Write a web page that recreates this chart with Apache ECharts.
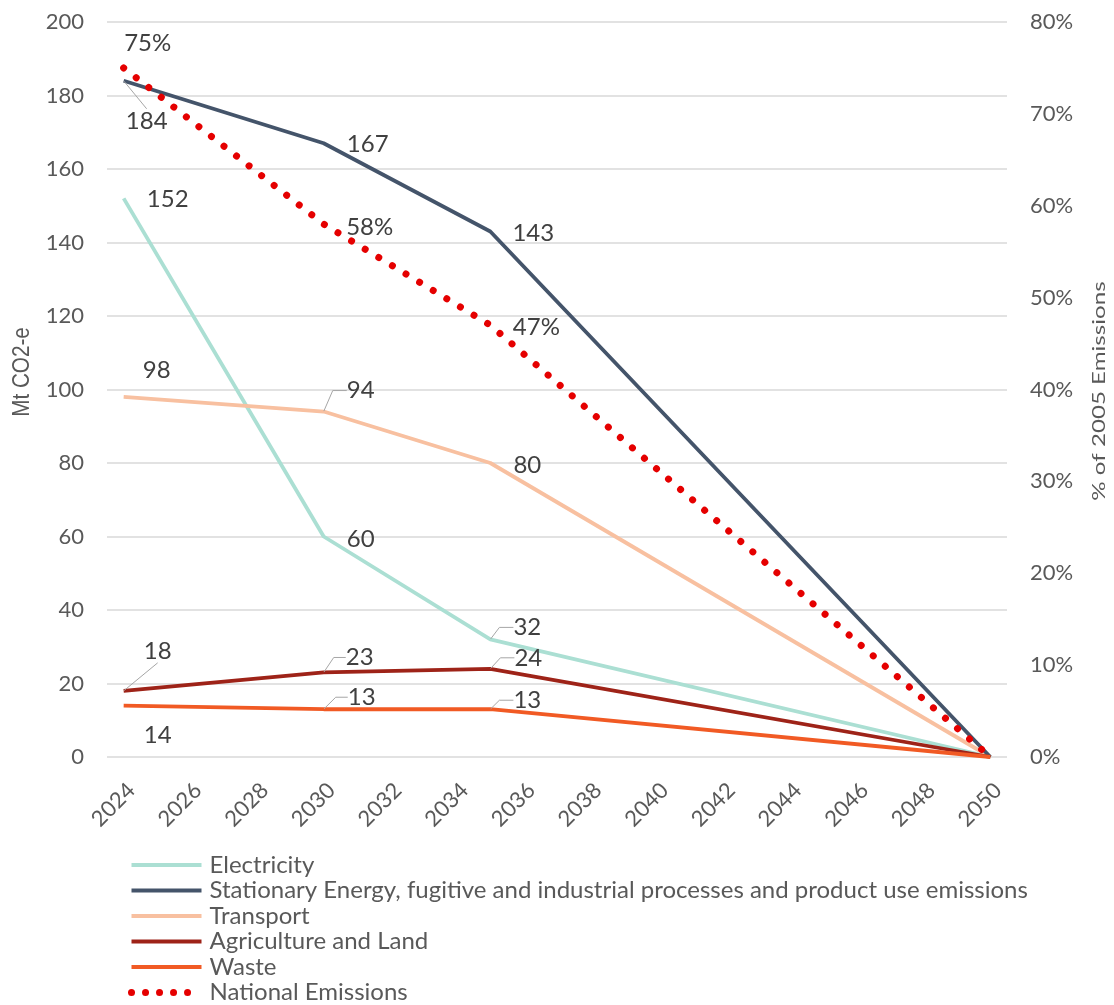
<!DOCTYPE html>
<html>
<head>
<meta charset="utf-8">
<script src="https://cdn.jsdelivr.net/npm/echarts@6/dist/echarts.min.js"></script>
<style>
  html, body { margin: 0; padding: 0; background: #ffffff; }
  #chart { width: 1114px; height: 1005px; }
</style>
</head>
<body>
<div id="chart"></div>
<script>
// Category axis: one slot per year, labels shown every second year
const years = ['2024', '2025', '2026', '2027', '2028', '2029', '2030', '2031', '2032',
  '2033', '2034', '2035', '2036', '2037', '2038', '2039', '2040', '2041', '2042',
  '2043', '2044', '2045', '2046', '2047', '2048', '2049', '2050'];

// Years that carry values
const keyYears = ['2024', '2030', '2035', '2050'];

// Sector emissions, Mt CO2-e
const electricity = [152, 60, 32, 0];
const stationary = [184, 167, 143, 0];
const transport = [98, 94, 80, 0];
const agriculture = [18, 23, 24, 0];
const waste = [14, 13, 13, 0];

// National emissions, % of 2005 emissions
const national = [75, 58, 47, 0];

// Left and right axis ranges
const leftAxis = { min: 0, max: 200, step: 20 };
const rightAxis = { min: 0, max: 80, step: 10 };

// Label placement per labelled point: [dx, dy, leader length (optional)]
const labelPlacement = {
  'Electricity': [[44, 1], [37, 2.5], [37, -12, 14]],
  'Stationary': [[23, 40, 0], [44, 1], [43, 2]],
  'Transport': [[33, -27], [37, -21, 14], [37, 2]],
  'Agriculture': [[34, -40, 0], [36, -15, 12], [38, -11, 14]],
  'Waste': [[34, 30], [38, -12, 12], [37, -9, 14]],
  'National': [[24, -25], [46, 3], [46, 2]]
};

const FONT = 'Lato, "Noto Sans", sans-serif';
const LABEL_COLOR = '#404040';
const AXIS_COLOR = '#595959';
const LINE_WIDTH = 3.8;

function buildData(values, placement) {
  const out = years.map(() => '-');
  keyYears.forEach((yr, i) => {
    const p = placement[i];
    out[years.indexOf(yr)] = {
      value: values[i],
      label: { show: !!p },
      labelLine: { show: !!(p && p.length > 2), length2: (p && p[2]) || 0 }
    };
  });
  return out;
}

function makeSeries(name, key, values, color, opts) {
  const placement = labelPlacement[key];
  const o = opts || {};
  return {
    name: name,
    type: 'line',
    yAxisIndex: o.yAxisIndex || 0,
    data: buildData(values, placement),
    connectNulls: true,
    symbol: 'circle',
    symbolSize: 1,
    showSymbol: true,
    showAllSymbol: true,
    itemStyle: { color: 'rgba(0,0,0,0)', borderWidth: 0 },
    lineStyle: Object.assign({ color: color, width: LINE_WIDTH }, o.lineStyle || {}),
    label: {
      show: true,
      position: 'inside',
      color: LABEL_COLOR,
      opacity: 1,
      fontSize: 24,
      fontFamily: FONT,
      formatter: o.formatter || ((p) => String(p.value))
    },
    labelLine: { show: false, lineStyle: { color: '#a6a6a6', width: 1 } },
    labelLayout: (params) => {
      const i = keyYears.indexOf(years[params.dataIndex]);
      const p = placement[i];
      return p ? { dx: p[0], dy: p[1] } : {};
    },
    emphasis: { disabled: true },
    z: o.z || 2
  };
}

const chart = echarts.init(document.getElementById('chart'), null, { renderer: 'canvas' });

const legendLine = (color) => ({ color: color, width: LINE_WIDTH, type: 'solid' });

const option = {
  animation: false,
  backgroundColor: '#ffffff',
  grid: { left: 107, right: 107, top: 22, bottom: 248, containLabel: false, outerBoundsMode: 'none' },
  xAxis: {
    type: 'category',
    data: years,
    boundaryGap: true,
    axisLine: { show: false },
    axisTick: { show: false },
    splitLine: { show: false },
    axisLabel: {
      interval: 1,
      rotate: 45,
      margin: 22,
      verticalAlign: 'top',
      fontSize: 22,
      color: AXIS_COLOR,
      fontFamily: FONT
    }
  },
  yAxis: [
    {
      type: 'value',
      position: 'left',
      min: leftAxis.min, max: leftAxis.max, interval: leftAxis.step,
      axisLine: { show: false },
      axisTick: { show: false },
      axisLabel: { margin: 23, fontSize: 22, color: AXIS_COLOR, fontFamily: FONT },
      splitLine: { lineStyle: { color: '#d9d9d9', width: 1.5 } }
    },
    {
      type: 'value',
      position: 'right',
      min: rightAxis.min, max: rightAxis.max, interval: rightAxis.step,
      axisLine: { show: false },
      axisTick: { show: false },
      axisLabel: { margin: 23, fontSize: 22, color: AXIS_COLOR, fontFamily: FONT, formatter: (v) => v + '%' },
      splitLine: { show: false }
    }
  ],
  legend: {
    orient: 'vertical',
    left: 128,
    top: 853,
    padding: 0,
    itemWidth: 70,
    itemHeight: 14,
    itemGap: 1.5,
    selectedMode: false,
    textStyle: { fontSize: 24, lineHeight: 24, color: AXIS_COLOR, fontFamily: FONT, padding: [0, 0, 0, 3] },
    data: [
      { name: 'Electricity', lineStyle: legendLine('#abdfd3') },
      { name: 'Stationary Energy, fugitive and industrial processes and product use emissions', lineStyle: legendLine('#44546a') },
      { name: 'Transport', lineStyle: legendLine('#f8c0a0') },
      { name: 'Agriculture and Land', lineStyle: legendLine('#9e2318') },
      { name: 'Waste', lineStyle: legendLine('#f15a24') },
      { name: 'National Emissions', lineStyle: { color: '#e50000', width: 7, type: [0.01, 14], cap: 'round' } }
    ]
  },
  graphic: [
    {
      type: 'text',
      x: 23, y: 372,
      rotation: Math.PI / 2,
      scaleX: 0.9,
      style: {
        text: 'Mt CO2-e',
        font: '23px "Liberation Sans", Arial, sans-serif',
        fill: AXIS_COLOR,
        align: 'center',
        verticalAlign: 'middle'
      }
    },
    {
      type: 'text',
      x: 1100, y: 391,
      rotation: Math.PI / 2,
      scaleX: 1.42,
      style: {
        text: '% of 2005 Emissions',
        font: '17px Lato, sans-serif',
        fill: AXIS_COLOR,
        align: 'center',
        verticalAlign: 'middle'
      }
    }
  ],
  series: [
    makeSeries('Electricity', 'Electricity', electricity, '#abdfd3', { z: 2 }),
    makeSeries('Stationary Energy, fugitive and industrial processes and product use emissions', 'Stationary', stationary, '#44546a', { z: 3 }),
    makeSeries('Transport', 'Transport', transport, '#f8c0a0', { z: 2 }),
    makeSeries('Agriculture and Land', 'Agriculture', agriculture, '#9e2318', { z: 3 }),
    makeSeries('Waste', 'Waste', waste, '#f15a24', { z: 4 }),
    makeSeries('National Emissions', 'National', national, '#e50000', {
      yAxisIndex: 1,
      z: 5,
      lineStyle: { width: 7, type: [0.01, 15.9], cap: 'round' },
      formatter: (p) => p.value + '%'
    })
  ]
};

chart.setOption(option);
</script>
</body>
</html>
